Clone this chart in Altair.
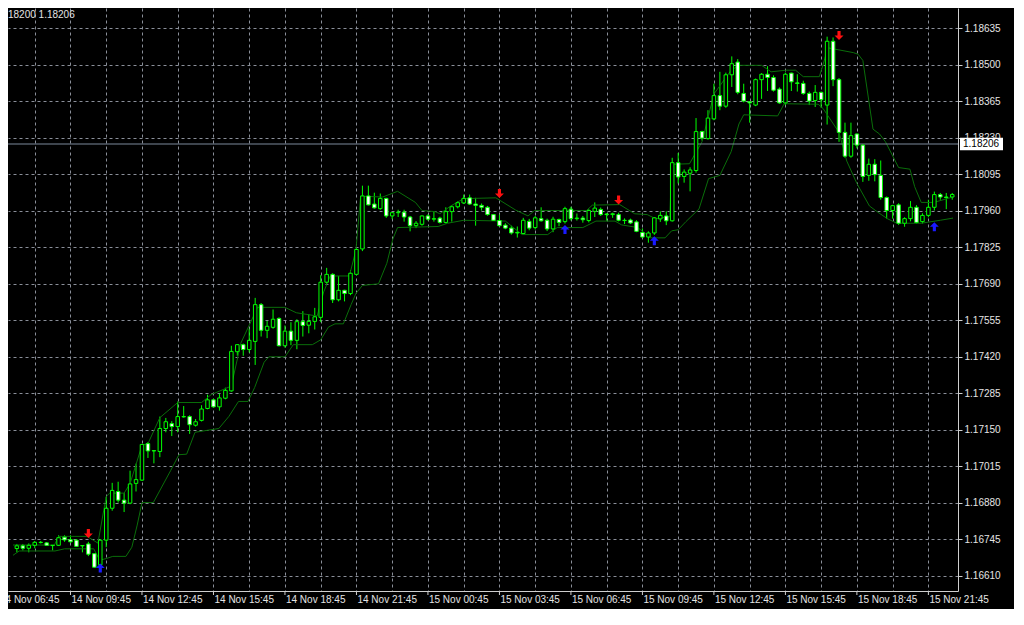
import altair as alt
import pandas as pd

# ---------------- data (EURUSD M15) ----------------
opens = [
    1.16710, 1.16720, 1.16711, 1.16722, 1.16733, 1.16731, 1.16722, 1.16722, 1.16752, 1.16743,
    1.16741, 1.16721, 1.16727, 1.16691, 1.16650, 1.16741, 1.16859, 1.16921, 1.16889, 1.16878,
    1.16951, 1.16963, 1.17098, 1.17072, 1.17069, 1.17154, 1.17172, 1.17161, 1.17198, 1.17198,
    1.17166, 1.17184, 1.17228, 1.17260, 1.17234, 1.17266, 1.17293, 1.17438, 1.17464, 1.17446,
    1.17476, 1.17612, 1.17517, 1.17528, 1.17561, 1.17460, 1.17514, 1.17480, 1.17549, 1.17536,
    1.17550, 1.17565, 1.17695, 1.17724, 1.17630, 1.17665, 1.17653, 1.17724, 1.17818, 1.18014,
    1.17984, 1.17967, 1.18005, 1.17940, 1.17952, 1.17954, 1.17936, 1.17904, 1.17909, 1.17940,
    1.17928, 1.17932, 1.17916, 1.17956, 1.17974, 1.17988, 1.18007, 1.17984, 1.17979, 1.17972,
    1.17945, 1.17923, 1.17906, 1.17895, 1.17877, 1.17875, 1.17920, 1.17897, 1.17930, 1.17924,
    1.17892, 1.17927, 1.17919, 1.17965, 1.17930, 1.17932, 1.17923, 1.17957, 1.17964, 1.17947,
    1.17945, 1.17945, 1.17924, 1.17925, 1.17918, 1.17879, 1.17862, 1.17877, 1.17929, 1.17940,
    1.17922, 1.18137, 1.18086, 1.18098, 1.18108, 1.18252, 1.18226, 1.18299, 1.18385, 1.18346,
    1.18462, 1.18509, 1.18393, 1.18362, 1.18350, 1.18444, 1.18464, 1.18452, 1.18409, 1.18358,
    1.18468, 1.18432, 1.18430, 1.18393, 1.18367, 1.18397, 1.18350, 1.18586, 1.18444, 1.18249,
    1.18161, 1.18243, 1.18202, 1.18090, 1.18131, 1.18090, 1.18008, 1.17960, 1.17981, 1.17913,
    1.17930, 1.17972, 1.17919, 1.17942, 1.17972, 1.18019, 1.18010, 1.18010,
]
highs = [
    1.16727, 1.16727, 1.16729, 1.16738, 1.16738, 1.16734, 1.16722, 1.16759, 1.16759, 1.16759,
    1.16745, 1.16721, 1.16735, 1.16691, 1.16744, 1.16901, 1.16953, 1.16957, 1.16915, 1.16998,
    1.17024, 1.17097, 1.17104, 1.17072, 1.17198, 1.17193, 1.17181, 1.17254, 1.17237, 1.17203,
    1.17189, 1.17240, 1.17279, 1.17264, 1.17283, 1.17305, 1.17460, 1.17466, 1.17468, 1.17523,
    1.17637, 1.17618, 1.17552, 1.17594, 1.17565, 1.17535, 1.17547, 1.17558, 1.17588, 1.17577,
    1.17600, 1.17721, 1.17748, 1.17728, 1.17718, 1.17667, 1.17740, 1.17822, 1.18052, 1.18052,
    1.18026, 1.18023, 1.18007, 1.17954, 1.17963, 1.17963, 1.17940, 1.17921, 1.17942, 1.17946,
    1.17956, 1.17937, 1.17972, 1.17980, 1.17994, 1.18019, 1.18019, 1.18007, 1.17986, 1.17977,
    1.17946, 1.17945, 1.17913, 1.17904, 1.17901, 1.17933, 1.17929, 1.17940, 1.17972, 1.17930,
    1.17937, 1.17930, 1.17974, 1.17974, 1.17949, 1.17940, 1.17965, 1.17990, 1.17971, 1.17950,
    1.17952, 1.17952, 1.17931, 1.17930, 1.17924, 1.17894, 1.17883, 1.17936, 1.17957, 1.17957,
    1.18155, 1.18173, 1.18112, 1.18120, 1.18302, 1.18255, 1.18331, 1.18429, 1.18473, 1.18470,
    1.18530, 1.18520, 1.18429, 1.18365, 1.18448, 1.18468, 1.18494, 1.18460, 1.18415, 1.18470,
    1.18470, 1.18464, 1.18440, 1.18400, 1.18424, 1.18400, 1.18603, 1.18600, 1.18450, 1.18285,
    1.18285, 1.18245, 1.18205, 1.18152, 1.18150, 1.18145, 1.18012, 1.17981, 1.17987, 1.17935,
    1.17995, 1.17980, 1.17950, 1.18000, 1.18030, 1.18025, 1.18025, 1.18025,
]
lows = [
    1.16696, 1.16703, 1.16696, 1.16711, 1.16729, 1.16720, 1.16703, 1.16720, 1.16735, 1.16731,
    1.16717, 1.16696, 1.16682, 1.16640, 1.16645, 1.16715, 1.16850, 1.16880, 1.16845, 1.16874,
    1.16921, 1.16960, 1.17045, 1.17025, 1.17048, 1.17140, 1.17126, 1.17140, 1.17194, 1.17134,
    1.17161, 1.17180, 1.17225, 1.17232, 1.17220, 1.17262, 1.17290, 1.17423, 1.17423, 1.17435,
    1.17389, 1.17494, 1.17488, 1.17523, 1.17458, 1.17453, 1.17462, 1.17447, 1.17494, 1.17506,
    1.17520, 1.17547, 1.17689, 1.17618, 1.17624, 1.17624, 1.17647, 1.17721, 1.17810, 1.17979,
    1.17967, 1.17963, 1.17933, 1.17928, 1.17936, 1.17919, 1.17883, 1.17895, 1.17904, 1.17923,
    1.17919, 1.17912, 1.17912, 1.17919, 1.17968, 1.17984, 1.17981, 1.17904, 1.17960, 1.17941,
    1.17922, 1.17901, 1.17891, 1.17871, 1.17860, 1.17872, 1.17887, 1.17890, 1.17919, 1.17884,
    1.17880, 1.17902, 1.17912, 1.17923, 1.17923, 1.17915, 1.17916, 1.17936, 1.17940, 1.17922,
    1.17933, 1.17920, 1.17910, 1.17910, 1.17880, 1.17858, 1.17841, 1.17870, 1.17918, 1.17906,
    1.17919, 1.18060, 1.18063, 1.18031, 1.18100, 1.18219, 1.18222, 1.18294, 1.18331, 1.18340,
    1.18417, 1.18390, 1.18360, 1.18285, 1.18346, 1.18373, 1.18402, 1.18400, 1.18355, 1.18350,
    1.18402, 1.18400, 1.18388, 1.18350, 1.18343, 1.18340, 1.18278, 1.18420, 1.18214, 1.18155,
    1.18155, 1.18190, 1.18066, 1.18070, 1.18068, 1.18000, 1.17930, 1.17930, 1.17907, 1.17900,
    1.17920, 1.17912, 1.17912, 1.17935, 1.17960, 1.18000, 1.17965, 1.18000,
]
closes = [
    1.16720, 1.16711, 1.16722, 1.16733, 1.16732, 1.16722, 1.16721, 1.16750, 1.16742, 1.16735,
    1.16718, 1.16720, 1.16689, 1.16641, 1.16741, 1.16859, 1.16925, 1.16889, 1.16878, 1.16949,
    1.16965, 1.17095, 1.17071, 1.17071, 1.17154, 1.17179, 1.17161, 1.17198, 1.17197, 1.17168,
    1.17179, 1.17226, 1.17260, 1.17234, 1.17267, 1.17295, 1.17439, 1.17464, 1.17446, 1.17480,
    1.17612, 1.17517, 1.17532, 1.17558, 1.17460, 1.17514, 1.17480, 1.17549, 1.17535, 1.17550,
    1.17567, 1.17695, 1.17724, 1.17630, 1.17665, 1.17653, 1.17728, 1.17816, 1.18014, 1.17981,
    1.17970, 1.18005, 1.17940, 1.17952, 1.17954, 1.17936, 1.17904, 1.17913, 1.17940, 1.17928,
    1.17930, 1.17916, 1.17956, 1.17974, 1.17989, 1.18005, 1.17984, 1.17979, 1.17972, 1.17945,
    1.17924, 1.17904, 1.17895, 1.17877, 1.17879, 1.17924, 1.17895, 1.17933, 1.17922, 1.17892,
    1.17928, 1.17916, 1.17967, 1.17930, 1.17932, 1.17926, 1.17960, 1.17969, 1.17945, 1.17945,
    1.17948, 1.17924, 1.17923, 1.17914, 1.17883, 1.17862, 1.17877, 1.17933, 1.17942, 1.17922,
    1.18137, 1.18084, 1.18102, 1.18110, 1.18252, 1.18228, 1.18302, 1.18385, 1.18346, 1.18462,
    1.18503, 1.18397, 1.18365, 1.18358, 1.18444, 1.18464, 1.18452, 1.18405, 1.18358, 1.18464,
    1.18436, 1.18430, 1.18393, 1.18365, 1.18397, 1.18370, 1.18586, 1.18444, 1.18249, 1.18161,
    1.18237, 1.18202, 1.18086, 1.18131, 1.18093, 1.18008, 1.17960, 1.17978, 1.17913, 1.17930,
    1.17972, 1.17916, 1.17942, 1.17972, 1.18019, 1.18010, 1.18008, 1.18019,
]

# channel indicator (vertices, bar index / price)
upper_idx = [-0.65, 6.3, 7, 11.8, 13.6, 15, 15.6, 18, 19, 21, 22, 24, 27, 31, 32.6, 36, 37.6,
             40.4, 45, 46.9, 50.4, 51.5, 52.6, 55.8, 56.9, 57.7, 61.4, 63.9, 66.9, 68, 70.2, 71,
             72.9, 75, 80.4, 83.7, 85.8, 86.9, 95.6, 96.6, 101.2, 103.7, 105.8, 107.2, 109.6,
             109.9, 112.9, 115, 117, 119.9, 121.2, 125, 126.6, 129.1, 130.7, 132, 134.7, 135.6,
             136.1, 140.4, 141.2, 142, 143.7, 144.8, 145.8, 148, 149.9, 150.7, 151.8, 153.9, 157.13]
upper_val = [1.16723, 1.16723, 1.16755, 1.16755, 1.16730, 1.16903, 1.16915, 1.16915, 1.16950,
             1.17092, 1.17098, 1.17194, 1.17250, 1.17250, 1.17279, 1.17311, 1.17470, 1.17602,
             1.17602, 1.17582, 1.17570, 1.17659, 1.17718, 1.17718, 1.17812, 1.18013, 1.18010,
             1.18031, 1.17990, 1.17960, 1.17956, 1.17948, 1.17978, 1.18004, 1.18007, 1.17962,
             1.17940, 1.17960, 1.17960, 1.17980, 1.17982, 1.17948, 1.17945, 1.17930, 1.17937,
             1.18131, 1.18133, 1.18214, 1.18391, 1.18479, 1.18497, 1.18497, 1.18473, 1.18479,
             1.18479, 1.18455, 1.18455, 1.18521, 1.18562, 1.18544, 1.18538, 1.18515, 1.18261,
             1.18243, 1.18214, 1.18119, 1.18113, 1.18048, 1.17990, 1.17990, 1.18010]
lower_idx = [-0.65, 0.4, 6.4, 8, 12.9, 13.9, 15, 16.1, 18.3, 19.3, 20.2, 21, 22.9, 25.8, 27.2,
             28.5, 29.9, 33.9, 35.6, 37.2, 38.8, 39.9, 41.5, 42.3, 45, 46.4, 49.6, 51, 52.3, 53.4,
             54.8, 56.1, 56.9, 58, 60.7, 62.1, 63.1, 63.9, 70.7, 72.3, 75, 82, 84.8, 89.1, 90.7,
             95, 97.2, 100.4, 101.5, 104.2, 106.4, 108.8, 109.9, 111, 112.3, 114.5, 116.1, 118,
             119.9, 121.2, 122, 127.7, 128.8, 134.5, 135.3, 138, 139.3, 141, 143.1, 144.5, 146.1,
             147.7, 151.8, 155, 157.13]
lower_val = [1.16685, 1.16701, 1.16701, 1.16709, 1.16709, 1.16667, 1.16673, 1.16681, 1.16681,
             1.16715, 1.16797, 1.16880, 1.16880, 1.16998, 1.17057, 1.17059, 1.17140, 1.17154,
             1.17199, 1.17254, 1.17254, 1.17305, 1.17399, 1.17419, 1.17419, 1.17464, 1.17464,
             1.17482, 1.17529, 1.17541, 1.17541, 1.17612, 1.17653, 1.17683, 1.17689, 1.17765,
             1.17854, 1.17897, 1.17901, 1.17913, 1.17924, 1.17921, 1.17871, 1.17871, 1.17897,
             1.17897, 1.17921, 1.17921, 1.17907, 1.17897, 1.17859, 1.17859, 1.17885, 1.17889,
             1.17919, 1.17966, 1.18078, 1.18090, 1.18178, 1.18280, 1.18314, 1.18310, 1.18355,
             1.18353, 1.18338, 1.18249, 1.18143, 1.18060, 1.17977, 1.17954, 1.17930, 1.17913,
             1.17913, 1.17924, 1.17932]

arrow_dn_idx = [12, 81, 101, 138]
arrow_dn_val = [1.16766, 1.18023, 1.17999, 1.18607]
arrow_up_idx = [14, 92, 107, 154]
arrow_up_val = [1.16638, 1.17890, 1.17848, 1.17900]

price_ticks = [1.16610, 1.16745, 1.16880, 1.17015, 1.17150, 1.17285, 1.17420, 1.17555,
               1.17690, 1.17825, 1.17960, 1.18095, 1.18230, 1.18365, 1.18500, 1.18635]
grid_idx = [3, 9, 15, 21, 27, 33, 39, 45, 51, 57, 63, 69, 75, 81, 87, 93, 99, 105, 111,
            117, 123, 129, 135, 141, 147, 153]
time_tick_idx = [-3, 9, 21, 33, 45, 57, 69, 81, 93, 105, 117, 129, 141, 153]
time_tick_text = ["14 Nov 06:45", "14 Nov 09:45", "14 Nov 12:45", "14 Nov 15:45",
                  "14 Nov 18:45", "14 Nov 21:45", "15 Nov 00:45", "15 Nov 03:45",
                  "15 Nov 06:45", "15 Nov 09:45", "15 Nov 12:45", "15 Nov 15:45",
                  "15 Nov 18:45", "15 Nov 21:45"]
current_price = [1.18206]
current_label = ["1.18206"]
header_text = ["18200 1.18206"]

# ---------------- chart ----------------
W, H = 950, 583
FONT = "Liberation Sans"
LIME = "#00ff00"
TXT = "#e4e4e4"
GRID = "#8a8f99"
AXC = "#cfcfcf"

candles = pd.DataFrame({"i": list(range(len(opens))), "open": opens, "high": highs,
                        "low": lows, "close": closes})
upper = pd.DataFrame({"i": upper_idx, "v": upper_val})
lower = pd.DataFrame({"i": lower_idx, "v": lower_val})
dn = pd.DataFrame({"i": arrow_dn_idx, "v": arrow_dn_val})
up = pd.DataFrame({"i": arrow_up_idx, "v": arrow_up_val})
ticks_df = pd.DataFrame({"i": time_tick_idx, "t": time_tick_text})
cur = pd.DataFrame({"p": current_price, "t": current_label})
hdr = pd.DataFrame({"t": header_text})

xs = alt.Scale(domain=[-0.65, 157.13], nice=False, zero=False)
ys = alt.Scale(domain=[1.16553, 1.18709], nice=False, zero=False)

x_axis = alt.Axis(values=grid_idx, labels=False, ticks=False, grid=True,
                  gridColor=GRID, gridDash=[3, 3], gridWidth=1,
                  domainColor=AXC, domainWidth=1, zindex=0)
y_axis = alt.Axis(orient="right", values=price_ticks, format=".5f", grid=True,
                  gridColor=GRID, gridDash=[3, 3], gridWidth=1,
                  domainColor=AXC, domainWidth=1, tickColor=AXC,
                  tickSize=4, labelColor=TXT, labelFont=FONT, labelFontSize=10,
                  labelPadding=2, zindex=0)


def X(f="i"):
    return alt.X(f"{f}:Q", scale=xs, axis=x_axis, title=None)


def Y(f):
    return alt.Y(f"{f}:Q", scale=ys, axis=y_axis, title=None)


wicks = alt.Chart(candles).mark_rule(color=LIME, strokeWidth=1).encode(
    x=X(), y=Y("low"), y2="high:Q")

bodies = alt.Chart(candles).mark_bar(size=3.5, stroke=LIME, strokeWidth=1).encode(
    x=X(), y=Y("open"), y2="close:Q",
    fill=alt.condition("datum.close < datum.open", alt.value("white"), alt.value("black")),
)

band_up = alt.Chart(upper).mark_line(color="#0a6e0a", strokeWidth=1).encode(x=X(), y=Y("v"))
band_lo = alt.Chart(lower).mark_line(color="#0a6e0a", strokeWidth=1).encode(x=X(), y=Y("v"))

price_line = alt.Chart(cur).mark_rule(color="#7d8a9c", strokeWidth=1.2).encode(y=Y("p"))

DOWN = "M-0.35,-1L0.35,-1L0.35,0L1,0L0,1L-1,0L-0.35,0Z"
UP = "M-0.35,1L0.35,1L0.35,0L1,0L0,-1L-1,0L-0.35,0Z"
arrows_dn = alt.Chart(dn).mark_point(shape=DOWN, filled=True, size=80, opacity=1,
                                     strokeWidth=0, color="#ff1010").encode(x=X(), y=Y("v"))
arrows_up = alt.Chart(up).mark_point(shape=UP, filled=True, size=80, opacity=1,
                                     strokeWidth=0, color="#1a1aff").encode(x=X(), y=Y("v"))

xticks = alt.Chart(ticks_df).mark_rule(color=AXC).encode(
    x=X(), y=alt.value(H), y2=alt.value(H + 4))
xlabels = alt.Chart(ticks_df).mark_text(align="left", baseline="top", color=TXT, font=FONT,
                                        fontSize=10, dx=1).encode(
    x=X(), y=alt.value(H + 4), text="t:N")

box = alt.Chart(cur).transform_calculate(
    top="datum.p + 0.000235", bot="datum.p - 0.000235"
).mark_rect(color="white").encode(
    x=alt.value(W + 2), x2=alt.value(W + 45), y=Y("top"), y2="bot:Q")
box_text = alt.Chart(cur).mark_text(align="left", baseline="middle", color="black",
                                    font=FONT, fontSize=10).encode(
    x=alt.value(W + 5), y=Y("p"), text="t:N")

header = alt.Chart(hdr).mark_text(align="left", baseline="top", color=TXT, font=FONT,
                                  fontSize=10).encode(
    x=alt.value(0), y=alt.value(2), text="t:N")

chart = alt.layer(
    wicks, band_up, band_lo, price_line, bodies, arrows_dn, arrows_up,
    xticks, xlabels, box, box_text, header,
).properties(
    width=W, height=H,
    autosize=alt.AutoSizeParams(type="none"),
    padding={"left": 0, "top": 0, "right": 56, "bottom": 18},
).configure(background="black").configure_view(strokeWidth=0)

chart.save("out.html", embed_options={"renderer": "svg", "actions": False})
